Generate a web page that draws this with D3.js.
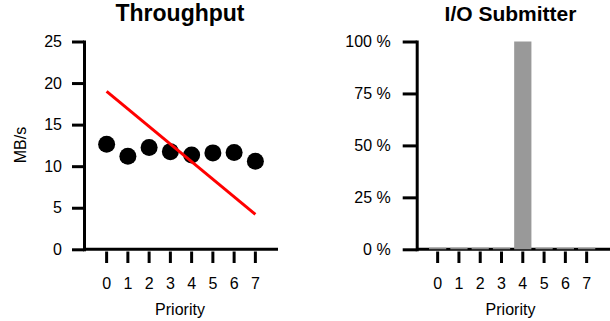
<!DOCTYPE html>
<html><head><meta charset="utf-8">
<script src="https://cdn.jsdelivr.net/npm/d3@7"></script>
<style>
html,body{margin:0;padding:0;background:#fff;}
text{font-family:"Liberation Sans",Arial,sans-serif;fill:#000;}
</style></head>
<body><svg id="c" width="610" height="321"></svg>
<script>
const priorities = [0,1,2,3,4,5,6,7];
const throughput = [12.65, 11.2, 12.25, 11.75, 11.35, 11.6, 11.65, 10.6];
const trendStart = 19.0, trendEnd = 4.2;
const throughputTicks = [0,5,10,15,20,25];
const submitterShare = [0,0,0,0,100,0,0,0];
const shareTicks = [0,25,50,75,100];

const svg = d3.select("#c");

function styleAxis(g){
  g.selectAll("line").attr("stroke","#000").attr("stroke-width",3);
  g.selectAll("path.domain").attr("stroke","#000").attr("stroke-width",3).attr("stroke-linecap","square");
  g.selectAll("text").style("font-size","16px").attr("fill","#000");
}

// ---------- Left panel: Throughput ----------
{
  const x0 = 84, yTop = 41.5, yBot = 249.3;
  const x = d3.scaleBand().domain(priorities).range([96, 266]);
  const y = d3.scaleLinear().domain([0,25]).range([yBot, yTop]);
  const cx = d => x(d) + x.bandwidth()/2;

  svg.append("text").attr("x",180).attr("y",21).attr("text-anchor","middle")
    .style("font-size","23px").style("font-weight","bold").text("Throughput");

  const ya = svg.append("g").attr("transform",`translate(${x0},0)`)
    .call(d3.axisLeft(y).tickValues(throughputTicks).tickSize(12).tickSizeOuter(0).tickPadding(10));
  styleAxis(ya);

  svg.append("line").attr("x1",x0).attr("x2",278).attr("y1",yBot).attr("y2",yBot)
    .attr("stroke","#000").attr("stroke-width",3);

  const xa = svg.append("g").attr("transform",`translate(0,251.5)`)
    .call(d3.axisBottom(x).tickSize(11.5).tickPadding(14.2));
  xa.select("path.domain").remove();
  styleAxis(xa);

  svg.append("text").attr("x",180).attr("y",314.5).attr("text-anchor","middle")
    .style("font-size","16px").text("Priority");
  svg.append("text").attr("transform",`translate(26,145) rotate(-90)`).attr("text-anchor","middle")
    .style("font-size","16px").text("MB/s");

  svg.append("g").selectAll("circle").data(throughput).join("circle")
    .attr("cx",(d,i)=>cx(priorities[i])).attr("cy",d=>y(d)).attr("r",8.5).attr("fill","#000");

  svg.append("line")
    .attr("x1",cx(priorities[0])).attr("y1",y(trendStart))
    .attr("x2",cx(priorities[priorities.length-1])).attr("y2",y(trendEnd))
    .attr("stroke","#ff0000").attr("stroke-width",3);
}

// ---------- Right panel: I/O Submitter ----------
{
  const x0 = 416.7, yTop = 41.5, yBot = 249.3;
  const x = d3.scaleBand().domain(priorities).range([427, 597.3]).paddingInner(0.19).paddingOuter(0.095);
  const y = d3.scaleLinear().domain([0,100]).range([yBot, yTop]);

  svg.append("text").attr("x",510.5).attr("y",21).attr("text-anchor","middle")
    .style("font-size","21px").style("font-weight","bold").text("I/O Submitter");

  const ya = svg.append("g").attr("transform",`translate(${x0},0)`)
    .call(d3.axisLeft(y).tickValues(shareTicks).tickFormat(d=>d+" %").tickSize(14).tickSizeOuter(0).tickPadding(12));
  styleAxis(ya);

  svg.append("line").attr("x1",x0).attr("x2",610).attr("y1",yBot).attr("y2",yBot)
    .attr("stroke","#000").attr("stroke-width",3);

  const xa = svg.append("g").attr("transform",`translate(0,251.5)`)
    .call(d3.axisBottom(x).tickSize(11.5).tickPadding(14.2));
  xa.select("path.domain").remove();
  styleAxis(xa);

  svg.append("text").attr("x",510.5).attr("y",314.5).attr("text-anchor","middle")
    .style("font-size","16px").text("Priority");

  svg.append("g").selectAll("rect").data(submitterShare).join("rect")
    .attr("x",(d,i)=>x(priorities[i])).attr("width",x.bandwidth())
    .attr("y",d=>Math.min(y(d), yBot-1.5)).attr("height",d=>Math.max(yBot - y(d), 1.5))
    .attr("fill",d=>d>0?"#999999":"#8a8a8a");
}
</script></body></html>
